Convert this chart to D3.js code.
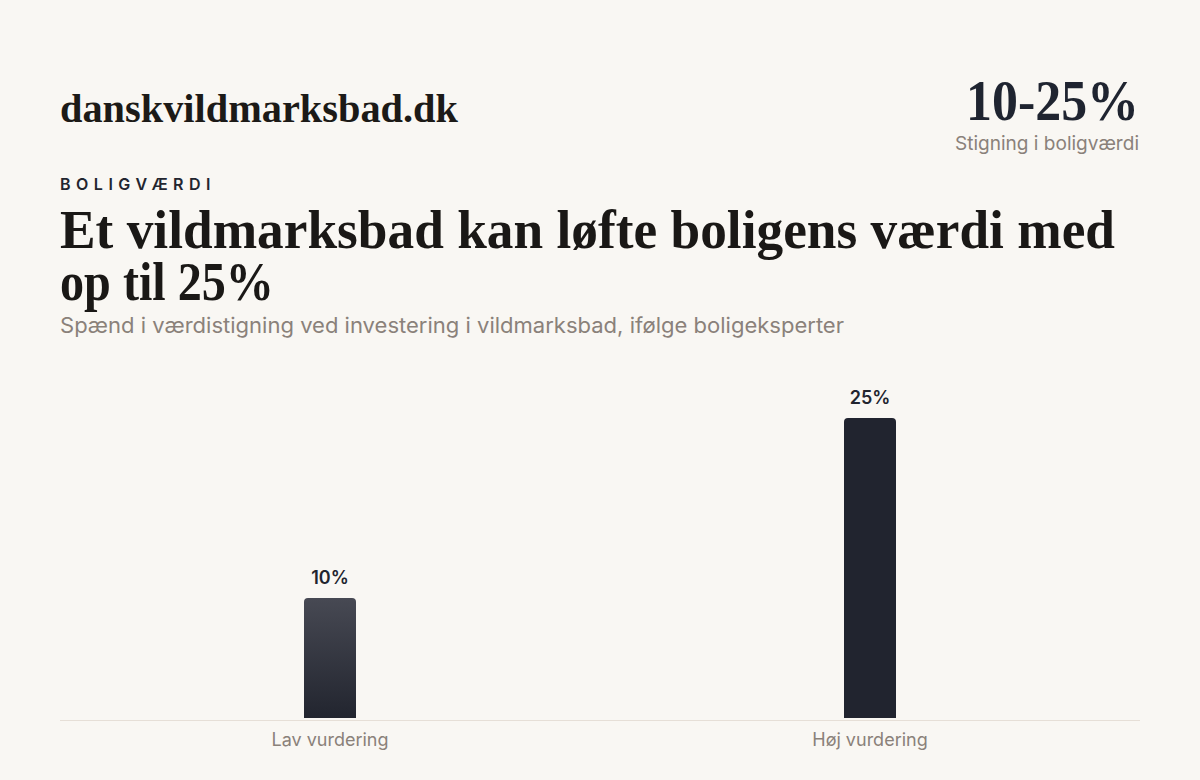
<!DOCTYPE html>
<html><head><meta charset="utf-8">
<script src="https://cdn.jsdelivr.net/npm/d3@7/dist/d3.min.js"></script>
<style>
html,body{margin:0;padding:0;background:#f9f7f3;}
svg{display:block;}
</style></head>
<body>
<svg id="chart" width="1200" height="780"></svg>
<script>
const categories = ["Lav vurdering", "Høj vurdering"];
const values = [10, 25];
const valueLabels = ["10%", "25%"];
const siteName = "danskvildmarksbad.dk";
const kpiValue = "10-25%";
const kpiLabel = "Stigning i boligværdi";
const eyebrow = "BOLIGVÆRDI";
const titleLines = ["Et vildmarksbad kan løfte boligens værdi med", "op til 25%"];
const subtitle = "Spænd i værdistigning ved investering i vildmarksbad, ifølge boligeksperter";

const svg = d3.select("#chart");
const W = 1200, H = 780;
svg.append("rect").attr("width", W).attr("height", H).attr("fill", "#f9f7f3");

const serif = "'Liberation Serif', 'DejaVu Serif', serif";
const sans = "Inter, 'Noto Sans', sans-serif";

function fit(sel, w) { sel.attr("textLength", w).attr("lengthAdjust", "spacingAndGlyphs"); return sel; }

fit(svg.append("text").attr("x", 60).attr("y", 122)
  .attr("font-family", serif).attr("font-weight", 700).attr("font-size", 39)
  .attr("fill", "#1c1a17").text(siteName), 398);

fit(svg.append("text").attr("x", 1139).attr("y", 120).attr("text-anchor", "end")
  .attr("font-family", serif).attr("font-weight", 700).attr("font-size", 58)
  .attr("fill", "#1f2430").text(kpiValue), 173);

fit(svg.append("text").attr("x", 1139).attr("y", 150).attr("text-anchor", "end")
  .attr("font-family", sans).attr("font-size", 19).attr("fill", "#8a817a").text(kpiLabel), 184);

svg.append("text").attr("x", 60).attr("y", 190)
  .attr("font-family", sans).attr("font-weight", 600).attr("font-size", 16)
  .attr("letter-spacing", "5.5px").attr("fill", "#22252f").text(eyebrow);

fit(svg.append("text").attr("x", 60).attr("y", 248)
  .attr("font-family", serif).attr("font-weight", 700).attr("font-size", 54)
  .attr("fill", "#1a1816").text(titleLines[0]), 1055);
fit(svg.append("text").attr("x", 60).attr("y", 300)
  .attr("font-family", serif).attr("font-weight", 700).attr("font-size", 54)
  .attr("fill", "#1a1816").text(titleLines[1]), 214);

fit(svg.append("text").attr("x", 60).attr("y", 333)
  .attr("font-family", sans).attr("font-size", 21).attr("fill", "#8a817a").text(subtitle), 784);

// chart
const x = d3.scaleBand().domain(categories).range([60, 1140]);
const y = d3.scaleLinear().domain([0, 25]).range([718, 418]);
const bw = 52, r = 4;

const defs = svg.append("defs");
const grad = defs.append("linearGradient").attr("id", "g0").attr("x1", 0).attr("x2", 0).attr("y1", 0).attr("y2", 1);
grad.append("stop").attr("offset", "0%").attr("stop-color", "#474953");
grad.append("stop").attr("offset", "100%").attr("stop-color", "#22252f");

function barPath(x0, y0, w, h) {
  return `M${x0},${y0 + h}V${y0 + r}Q${x0},${y0} ${x0 + r},${y0}H${x0 + w - r}Q${x0 + w},${y0} ${x0 + w},${y0 + r}V${y0 + h}Z`;
}

const data = categories.map((c, i) => ({ c, v: values[i], l: valueLabels[i], i }));

svg.append("line").attr("x1", 60).attr("x2", 1140).attr("y1", 720.5).attr("y2", 720.5)
  .attr("stroke", "#e6dfd7").attr("stroke-width", 1);

svg.selectAll("path.bar").data(data).join("path").attr("class", "bar")
  .attr("d", d => {
    const cx = x(d.c) + x.bandwidth() / 2;
    return barPath(cx - bw / 2, y(d.v), bw, y(0) - y(d.v));
  })
  .attr("fill", d => d.i === 0 ? "url(#g0)" : "#21242f");

svg.selectAll("text.val").data(data).join("text").attr("class", "val")
  .attr("x", d => x(d.c) + x.bandwidth() / 2).attr("y", d => y(d.v) - 14)
  .attr("text-anchor", "middle").attr("font-family", sans).attr("font-weight", 600)
  .attr("font-size", 18).attr("fill", "#22252f").text(d => d.l);

const ax = svg.append("g").attr("transform", "translate(0,721)")
  .call(d3.axisBottom(x).tickSize(0).tickPadding(12));
ax.select(".domain").remove();
ax.selectAll("text").attr("font-family", sans).attr("font-size", 18).attr("fill", "#8a817a");
</script>
</body></html>
